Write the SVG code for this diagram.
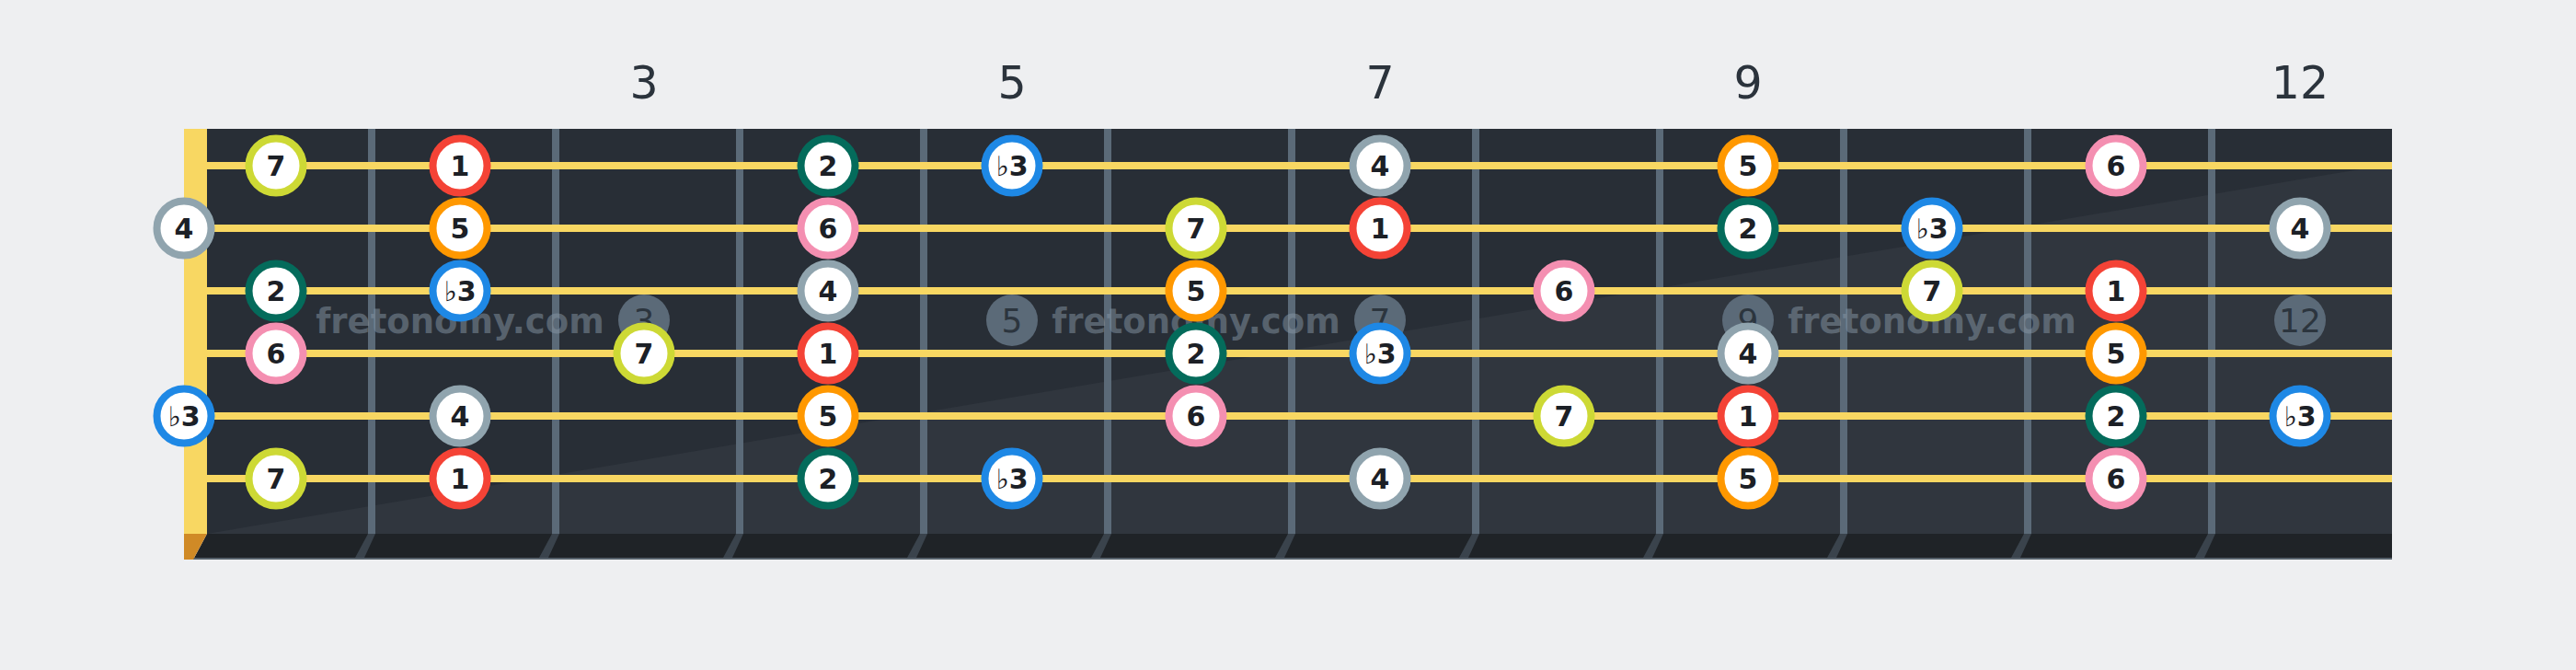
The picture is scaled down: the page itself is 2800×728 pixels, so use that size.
<svg xmlns="http://www.w3.org/2000/svg" width="2800" height="728" viewBox="0 0 2800 728">
<style>
.lbl{font-family:"DejaVu Sans",sans-serif;font-size:49px;fill:#2b333c;text-anchor:middle}
.mk circle{fill:#5b6a78}
.mk text{font-family:"DejaVu Sans",sans-serif;font-size:36px;fill:#2c353e;text-anchor:middle}
.wm{font-family:"DejaVu Sans",sans-serif;font-weight:bold;font-size:37px;fill:#8796a5;fill-opacity:0.5;text-anchor:middle}
.fret{fill:#5b6a78}
.fe{fill:#3a434c}
.str{stroke:#f8d762;stroke-width:8}
.n circle{fill:#fff;stroke-width:8}
.n text{font-family:"DejaVu Sans",sans-serif;font-weight:bold;font-size:30px;fill:#1c2026;text-anchor:middle}
.n tspan.fl{font-weight:normal}
.d1 circle{stroke:#f44336}
.d2 circle{stroke:#046b5b}
.d3 circle{stroke:#1e88e5}
.d4 circle{stroke:#90a4ae}
.d5 circle{stroke:#ff9800}
.d6 circle{stroke:#f48fb1}
.d7 circle{stroke:#cdd935}
</style>
<rect width="2800" height="728" fill="#eeeff1"/>
<g id="fret-labels">
<text class="lbl" x="700" y="107">3</text>
<text class="lbl" x="1100" y="107">5</text>
<text class="lbl" x="1500" y="107">7</text>
<text class="lbl" x="1900" y="107">9</text>
<text class="lbl" x="2500" y="107">12</text>
</g>
<g id="board">
<rect x="225" y="140" width="2375" height="440" fill="#282e36"/>
<polygon points="225,580 2600,178 2600,580" fill="#30363e"/>
<polygon points="225,580 2600,580 2600,608 210,608" fill="#1f2327"/>
<rect x="210" y="606" width="2390" height="2" fill="#56616b"/>
<rect x="200" y="140" width="25" height="440" fill="#f8d762"/>
<polygon points="200,580 225,580 210,608 200,608" fill="#d08a26"/>
</g>
<g id="frets">
<rect class="fret" x="400" y="140" width="8" height="440"/>
<rect class="fret" x="600" y="140" width="8" height="440"/>
<rect class="fret" x="800" y="140" width="8" height="440"/>
<rect class="fret" x="1000" y="140" width="8" height="440"/>
<rect class="fret" x="1200" y="140" width="8" height="440"/>
<rect class="fret" x="1400" y="140" width="8" height="440"/>
<rect class="fret" x="1600" y="140" width="8" height="440"/>
<rect class="fret" x="1800" y="140" width="8" height="440"/>
<rect class="fret" x="2000" y="140" width="8" height="440"/>
<rect class="fret" x="2200" y="140" width="8" height="440"/>
<rect class="fret" x="2400" y="140" width="8" height="440"/>
<polygon class="fe" points="400,580 408,580 396,606 386,606"/>
<polygon class="fe" points="600,580 608,580 596,606 586,606"/>
<polygon class="fe" points="800,580 808,580 796,606 786,606"/>
<polygon class="fe" points="1000,580 1008,580 996,606 986,606"/>
<polygon class="fe" points="1200,580 1208,580 1196,606 1186,606"/>
<polygon class="fe" points="1400,580 1408,580 1396,606 1386,606"/>
<polygon class="fe" points="1600,580 1608,580 1596,606 1586,606"/>
<polygon class="fe" points="1800,580 1808,580 1796,606 1786,606"/>
<polygon class="fe" points="2000,580 2008,580 1996,606 1986,606"/>
<polygon class="fe" points="2200,580 2208,580 2196,606 2186,606"/>
<polygon class="fe" points="2400,580 2408,580 2396,606 2386,606"/>
</g>
<g id="markers">
<g class="mk" id="mk3"><circle cx="700" cy="348" r="28"/><text x="700" y="361">3</text></g>
<g class="mk" id="mk5"><circle cx="1100" cy="348" r="28"/><text x="1100" y="361">5</text></g>
<g class="mk" id="mk7"><circle cx="1500" cy="348" r="28"/><text x="1500" y="361">7</text></g>
<g class="mk" id="mk9"><circle cx="1900" cy="348" r="28"/><text x="1900" y="361">9</text></g>
<g class="mk" id="mk12"><circle cx="2500" cy="348" r="28"/><text x="2500" y="361">12</text></g>
</g>
<g id="watermark">
<text class="wm" x="500" y="362">fretonomy.com</text>
<text class="wm" x="1300" y="362">fretonomy.com</text>
<text class="wm" x="2100" y="362">fretonomy.com</text>
</g>
<g id="strings">
<line class="str" x1="225" y1="180" x2="2600" y2="180"/>
<line class="str" x1="225" y1="248" x2="2600" y2="248"/>
<line class="str" x1="225" y1="316" x2="2600" y2="316"/>
<line class="str" x1="225" y1="384" x2="2600" y2="384"/>
<line class="str" x1="225" y1="452" x2="2600" y2="452"/>
<line class="str" x1="225" y1="520" x2="2600" y2="520"/>
</g>
<g id="connectors"/>
<g id="notes">
<g id="s1f1" class="n d7" transform="translate(300,180)"><circle r="29.5"/><text y="11">7</text></g>
<g id="s1f2" class="n d1" transform="translate(500,180)"><circle r="29.5"/><text y="11">1</text></g>
<g id="s1f4" class="n d2" transform="translate(900,180)"><circle r="29.5"/><text y="11">2</text></g>
<g id="s1f5" class="n d3" transform="translate(1100,180)"><circle r="29.5"/><text y="11"><tspan class="fl">♭</tspan>3</text></g>
<g id="s1f7" class="n d4" transform="translate(1500,180)"><circle r="29.5"/><text y="11">4</text></g>
<g id="s1f9" class="n d5" transform="translate(1900,180)"><circle r="29.5"/><text y="11">5</text></g>
<g id="s1f11" class="n d6" transform="translate(2300,180)"><circle r="29.5"/><text y="11">6</text></g>

<g id="s2f0" class="n d4" transform="translate(200,248)"><circle r="29.5"/><text y="11">4</text></g>
<g id="s2f2" class="n d5" transform="translate(500,248)"><circle r="29.5"/><text y="11">5</text></g>
<g id="s2f4" class="n d6" transform="translate(900,248)"><circle r="29.5"/><text y="11">6</text></g>
<g id="s2f6" class="n d7" transform="translate(1300,248)"><circle r="29.5"/><text y="11">7</text></g>
<g id="s2f7" class="n d1" transform="translate(1500,248)"><circle r="29.5"/><text y="11">1</text></g>
<g id="s2f9" class="n d2" transform="translate(1900,248)"><circle r="29.5"/><text y="11">2</text></g>
<g id="s2f10" class="n d3" transform="translate(2100,248)"><circle r="29.5"/><text y="11"><tspan class="fl">♭</tspan>3</text></g>
<g id="s2f12" class="n d4" transform="translate(2500,248)"><circle r="29.5"/><text y="11">4</text></g>

<g id="s3f1" class="n d2" transform="translate(300,316)"><circle r="29.5"/><text y="11">2</text></g>
<g id="s3f2" class="n d3" transform="translate(500,316)"><circle r="29.5"/><text y="11"><tspan class="fl">♭</tspan>3</text></g>
<g id="s3f4" class="n d4" transform="translate(900,316)"><circle r="29.5"/><text y="11">4</text></g>
<g id="s3f6" class="n d5" transform="translate(1300,316)"><circle r="29.5"/><text y="11">5</text></g>
<g id="s3f8" class="n d6" transform="translate(1700,316)"><circle r="29.5"/><text y="11">6</text></g>
<g id="s3f10" class="n d7" transform="translate(2100,316)"><circle r="29.5"/><text y="11">7</text></g>
<g id="s3f11" class="n d1" transform="translate(2300,316)"><circle r="29.5"/><text y="11">1</text></g>

<g id="s4f1" class="n d6" transform="translate(300,384)"><circle r="29.5"/><text y="11">6</text></g>
<g id="s4f3" class="n d7" transform="translate(700,384)"><circle r="29.5"/><text y="11">7</text></g>
<g id="s4f4" class="n d1" transform="translate(900,384)"><circle r="29.5"/><text y="11">1</text></g>
<g id="s4f6" class="n d2" transform="translate(1300,384)"><circle r="29.5"/><text y="11">2</text></g>
<g id="s4f7" class="n d3" transform="translate(1500,384)"><circle r="29.5"/><text y="11"><tspan class="fl">♭</tspan>3</text></g>
<g id="s4f9" class="n d4" transform="translate(1900,384)"><circle r="29.5"/><text y="11">4</text></g>
<g id="s4f11" class="n d5" transform="translate(2300,384)"><circle r="29.5"/><text y="11">5</text></g>

<g id="s5f0" class="n d3" transform="translate(200,452)"><circle r="29.5"/><text y="11"><tspan class="fl">♭</tspan>3</text></g>
<g id="s5f2" class="n d4" transform="translate(500,452)"><circle r="29.5"/><text y="11">4</text></g>
<g id="s5f4" class="n d5" transform="translate(900,452)"><circle r="29.5"/><text y="11">5</text></g>
<g id="s5f6" class="n d6" transform="translate(1300,452)"><circle r="29.5"/><text y="11">6</text></g>
<g id="s5f8" class="n d7" transform="translate(1700,452)"><circle r="29.5"/><text y="11">7</text></g>
<g id="s5f9" class="n d1" transform="translate(1900,452)"><circle r="29.5"/><text y="11">1</text></g>
<g id="s5f11" class="n d2" transform="translate(2300,452)"><circle r="29.5"/><text y="11">2</text></g>
<g id="s5f12" class="n d3" transform="translate(2500,452)"><circle r="29.5"/><text y="11"><tspan class="fl">♭</tspan>3</text></g>

<g id="s6f1" class="n d7" transform="translate(300,520)"><circle r="29.5"/><text y="11">7</text></g>
<g id="s6f2" class="n d1" transform="translate(500,520)"><circle r="29.5"/><text y="11">1</text></g>
<g id="s6f4" class="n d2" transform="translate(900,520)"><circle r="29.5"/><text y="11">2</text></g>
<g id="s6f5" class="n d3" transform="translate(1100,520)"><circle r="29.5"/><text y="11"><tspan class="fl">♭</tspan>3</text></g>
<g id="s6f7" class="n d4" transform="translate(1500,520)"><circle r="29.5"/><text y="11">4</text></g>
<g id="s6f9" class="n d5" transform="translate(1900,520)"><circle r="29.5"/><text y="11">5</text></g>
<g id="s6f11" class="n d6" transform="translate(2300,520)"><circle r="29.5"/><text y="11">6</text></g>
</g>
</svg>
